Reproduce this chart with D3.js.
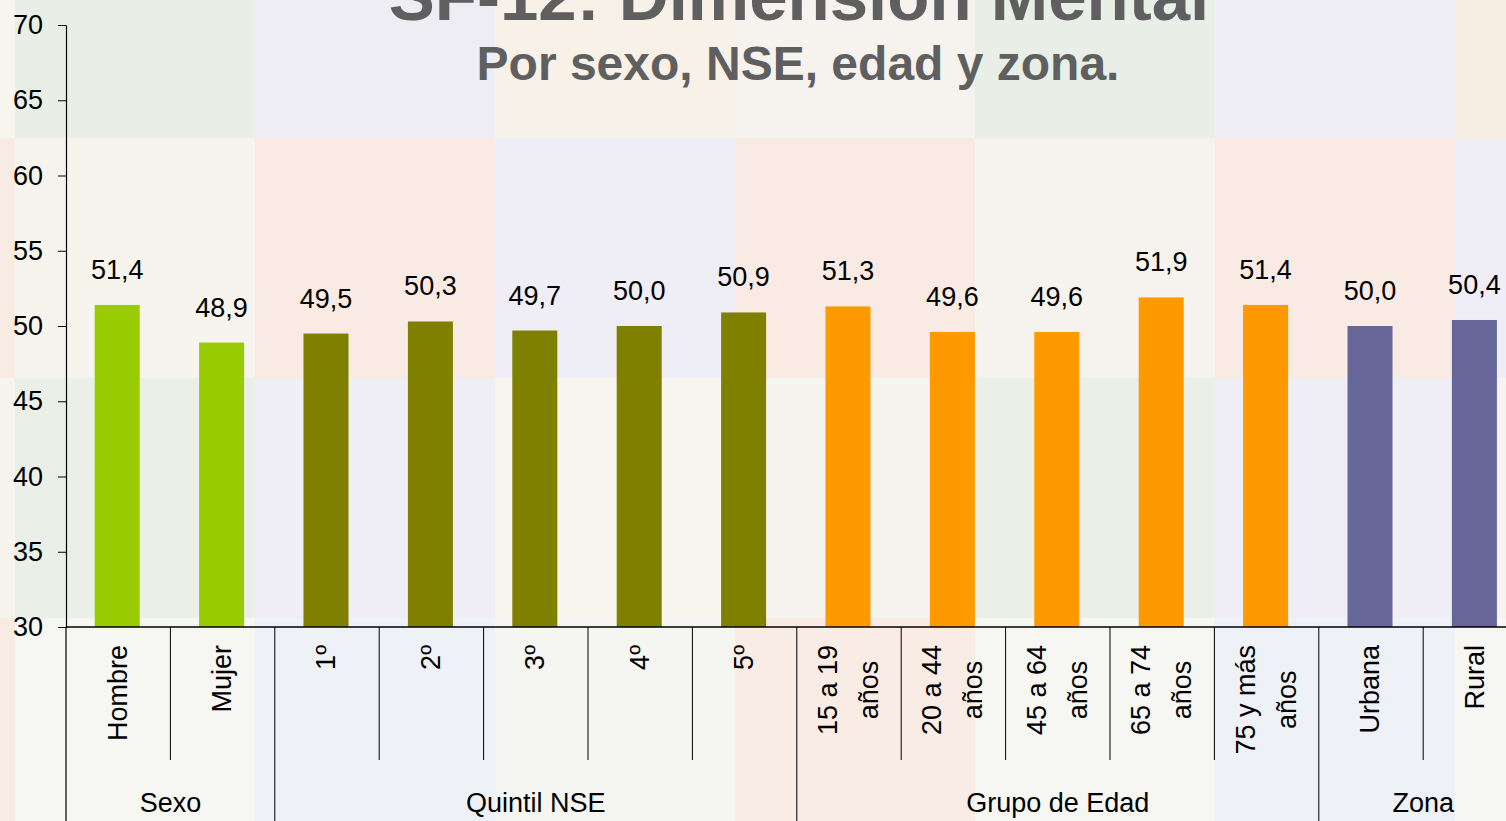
<!DOCTYPE html>
<html>
<head>
<meta charset="utf-8">
<script src="https://cdn.jsdelivr.net/npm/d3@7"></script>
<style>
  body { margin: 0; overflow: hidden; background: #f7f4ef; }
  text { font-family: "Liberation Sans", Arial, sans-serif; }
</style>
</head>
<body>
<div id="chart"></div>
<script>
// data
var categories = ["Hombre", "Mujer", "1º", "2º", "3º", "4º", "5º",
                  "15 a 19|años", "20 a 44|años", "45 a 64|años", "65 a 74|años", "75 y más|años",
                  "Urbana", "Rural"];
var values = [51.4, 48.9, 49.5, 50.3, 49.7, 50.0, 50.9, 51.3, 49.6, 49.6, 51.9, 51.4, 50.0, 50.4];
var groupNames = ["Sexo", "Quintil NSE", "Grupo de Edad", "Zona"];
var groupSizes = [2, 5, 5, 2];
var groupColors = ["#99cc00", "#808000", "#ff9900", "#666699"];
var yTicks = [30, 35, 40, 45, 50, 55, 60, 65, 70];

function init(){

    var w = 1506;
    var h = 821;

    var svg = d3.select("#chart")
                .append("svg")
                .attr("width", w)
                .attr("height", h);

    // faded tile background
    var tileCols = [0, 15, 255, 495, 735, 975, 1215, 1455, 1506];
    var tileRows = [0, 138, 378, 618, 821];
    var tileColors = [
        ["#f8f4ee", "#e9efe7", "#efedf4", "#f7f1e7", "#f6f2ee", "#e9efe7", "#f0eef5", "#f8ede3"],
        ["#f8ebe3", "#f7f4ee", "#f9ebe3", "#efedf5", "#f9ebe3", "#f6f3ee", "#f9ebe3", "#efedf5"],
        ["#f7f4ee", "#eaf0e8", "#f0eef5", "#f7f5ee", "#f6f4ef", "#eaf0e8", "#f0eef5", "#f7f4ee"],
        ["#f8ebe3", "#f6f6f3", "#eef1f6", "#f5f5f2", "#f8ece4", "#f6f6f3", "#eef1f6", "#f6f6f3"]
    ];
    tileColors.forEach(function(row, r){
        row.forEach(function(c, i){
            svg.append("rect")
                .attr("x", tileCols[i])
                .attr("y", tileRows[r])
                .attr("width", tileCols[i + 1] - tileCols[i])
                .attr("height", tileRows[r + 1] - tileRows[r])
                .attr("fill", c);
        });
    });

    var left = 66, top = 25, bottom = 627;
    var step = 104.4;

    var xScale = d3.scaleBand()
                    .domain(d3.range(categories.length))
                    .range([left, left + step * categories.length])
                    .padding(0);

    var yScale = d3.scaleLinear()
                    .domain([30, 70])
                    .range([bottom, top]);

    // group index of each category
    var groupOf = [];
    groupSizes.forEach(function(n, g){
        for (var k = 0; k < n; k++) groupOf.push(g);
    });

    var barW = 45;

    svg.selectAll("rect.bar")
        .data(values)
        .enter()
        .append("rect")
        .attr("class", "bar")
        .attr("x", function(d, i){ return xScale(i) + xScale.bandwidth() / 2 - barW / 2 - 1; })
        .attr("y", function(d){ return yScale(d); })
        .attr("width", barW)
        .attr("height", function(d){ return bottom - yScale(d); })
        .attr("fill", function(d, i){ return groupColors[groupOf[i]]; });

    // value labels
    svg.selectAll("text.val")
        .data(values)
        .enter()
        .append("text")
        .attr("class", "val")
        .attr("x", function(d, i){ return xScale(i) + xScale.bandwidth() / 2 - 1; })
        .attr("y", function(d){ return yScale(d) - 26; })
        .attr("text-anchor", "middle")
        .attr("font-size", "27px")
        .attr("fill", "#000")
        .text(function(d){ return d.toFixed(1).replace(".", ","); });

    // y axis
    var yAxis = d3.axisLeft(yScale)
                    .tickValues(yTicks)
                    .tickSize(8)
                    .tickSizeOuter(0)
                    .tickPadding(15);
    var gy = svg.append("g")
        .attr("transform", "translate(" + left + ",0)")
        .call(yAxis);
    gy.select(".domain").attr("stroke", "#000").attr("stroke-width", 1.2);
    gy.selectAll(".tick line").attr("stroke", "#000");
    gy.selectAll(".tick text")
        .attr("font-size", "27px")
        .attr("font-family", "'Liberation Sans', Arial, sans-serif")
        .attr("fill", "#000");

    // baseline of category axis
    svg.append("line")
        .attr("x1", left).attr("x2", w)
        .attr("y1", bottom).attr("y2", bottom)
        .attr("stroke", "#000").attr("stroke-width", 1.5);

    // left line continues down through label area
    svg.append("line")
        .attr("x1", left).attr("x2", left)
        .attr("y1", bottom).attr("y2", h)
        .attr("stroke", "#000").attr("stroke-width", 1.2);

    // separators between categories
    var groupStarts = d3.cumsum(groupSizes);
    d3.range(1, categories.length).forEach(function(i){
        var isGroup = groupStarts.indexOf(i) >= 0;
        svg.append("line")
            .attr("x1", xScale(i)).attr("x2", xScale(i))
            .attr("y1", bottom)
            .attr("y2", isGroup ? h : 760)
            .attr("stroke", "#000").attr("stroke-width", 1);
    });

    // category labels, rotated
    var lineGap = 41;
    categories.forEach(function(c, i){
        var lines = c.split("|");
        var cx = xScale(i) + xScale.bandwidth() / 2 - 1;
        var t = svg.append("text")
            .attr("font-size", "27px")
            .attr("fill", "#000")
            .attr("text-anchor", "middle");
        lines.forEach(function(s, k){
            t.append("tspan")
                .attr("x", 0)
                .attr("y", (k - (lines.length - 1) / 2) * lineGap)
                .attr("dy", "0.35em")
                .text(s);
        });
        var maxLen = d3.max(t.selectAll("tspan").nodes(), function(n){ return n.getComputedTextLength(); });
        t.attr("transform", "translate(" + cx + "," + (645 + maxLen / 2) + ") rotate(-90)");
    });

    // group labels
    var start = 0;
    groupNames.forEach(function(g, k){
        var x0 = xScale(start);
        var x1 = left + step * (start + groupSizes[k]);
        svg.append("text")
            .attr("x", (x0 + x1) / 2)
            .attr("y", 812)
            .attr("text-anchor", "middle")
            .attr("font-size", "27px")
            .attr("fill", "#000")
            .text(g);
        start += groupSizes[k];
    });

    // titles
    svg.append("text")
        .attr("x", 799)
        .attr("y", 20)
        .attr("text-anchor", "middle")
        .attr("font-size", "69px")
        .attr("font-weight", "bold")
        .attr("fill", "#5f5f5f")
        .text("SF-12: Dimensión Mental");

    svg.append("text")
        .attr("x", 798)
        .attr("y", 80)
        .attr("text-anchor", "middle")
        .attr("font-size", "48px")
        .attr("font-weight", "bold")
        .attr("fill", "#5f5f5f")
        .text("Por sexo, NSE, edad y zona.");
}

window.onload = init;
</script>
</body>
</html>
